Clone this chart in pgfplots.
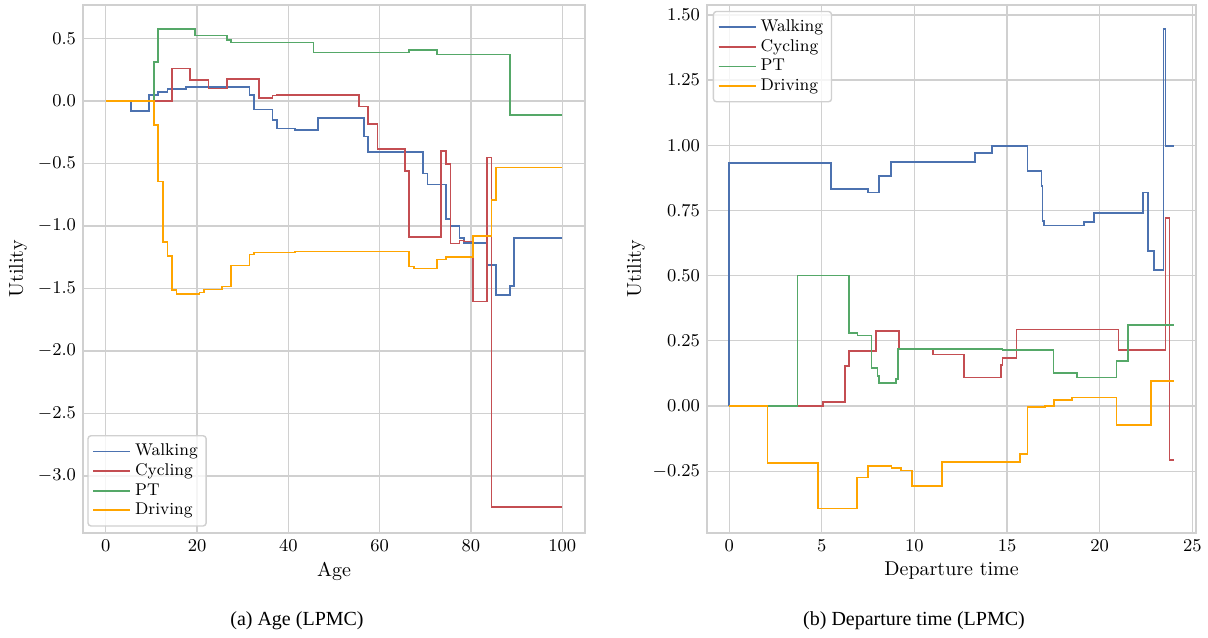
\documentclass[border=0pt]{standalone}
\usepackage{fontspec}
\usepackage{pgfplots}
\pgfplotsset{compat=1.18}
\newfontfamily\capfont{Liberation Serif}
\definecolor{cwalk}{HTML}{4C72B0}
\definecolor{ccyc}{HTML}{C44E52}
\definecolor{cpt}{HTML}{55A868}
\definecolor{cdrive}{HTML}{FFA500}
\definecolor{gridc}{HTML}{D0D0D0}
\pgfplotsset{
  common/.style={
    scale only axis,
    height=264pt,
    axis line style={draw=gridc, line width=0.7pt},
    grid=major,
    major grid style={draw=gridc, line width=0.6pt},
    major tick length=0pt,
    tick label style={font=\fontsize{9}{10}\selectfont},
    label style={font=\fontsize{10}{12}\selectfont},
    every axis plot/.append style={const plot, line width=0.85pt, mark=none},
    legend cell align=left,
    legend image code/.code={\draw[##1] (0pt,0pt) -- (15pt,0pt); \path (0pt,0pt) -- (18.5pt,0pt);},
    legend style={draw=gridc, line width=0.7pt, rounded corners=1.5pt, fill=white, fill opacity=0.8, text opacity=1,
      font=\fontsize{8.5}{10}\selectfont, row sep=-1.6pt, inner sep=2.2pt},
  }
}
\begin{document}
\begin{tikzpicture}
\path[use as bounding box] (0,0) rectangle (604pt,318.5pt);
% ---------- (a) Age ----------
\begin{axis}[common,
  at={(41.5pt,52pt)}, anchor=south west,
  width=251pt,
  xmin=-5, xmax=105, ymin=-3.456, ymax=0.768,
  xtick={0,20,40,60,80,100},
  ytick={-3.0,-2.5,-2.0,-1.5,-1.0,-0.5,0.0,0.5},
  yticklabel style={/pgf/number format/.cd, fixed, fixed zerofill, precision=1},
  xlabel={Age}, ylabel={Utility},
  every axis x label/.style={at={(axis description cs:0.5,-0.072)}, anchor=center},
  every axis y label/.style={at={(axis description cs:-0.1295,0.5)}, anchor=center, rotate=90},
  legend style={at={(0.0086,0.012)}, anchor=south west},
]
\addplot[cwalk] coordinates {
(0,0) (5.5,-0.08) (9.5,0.05) (11.5,0.072) (13.5,0.098) (17.5,0.11) (31.5,0.048) (32.5,-0.067)
(36.5,-0.152) (37.5,-0.219) (41.5,-0.232) (46.5,-0.138) (56.5,-0.285) (57.5,-0.41) (69.5,-0.579)
(70.5,-0.667) (74.5,-0.946) (75.5,-1.0) (77.5,-1.094) (78.5,-1.134) (83.5,-1.31) (85.5,-1.55)
(88.5,-1.48) (89.5,-1.096) (100,-1.096)};
\addlegendentry{Walking}
\addplot[ccyc] coordinates {
(0,0) (14.5,0.26) (18.5,0.17) (22.5,0.10) (26.5,0.176) (33.5,0.026) (36.5,0.043) (37.5,0.05)
(55.5,-0.043) (57.5,-0.184) (59.5,-0.384) (65.5,-0.56) (66.5,-1.09) (73.5,-0.40) (74.5,-0.506)
(75.5,-1.14) (77.5,-1.117) (78.5,-1.125) (80.5,-1.605) (83.5,-0.453) (84.5,-3.25) (100,-3.25)};
\addlegendentry{Cycling}
\addplot[cpt] coordinates {
(0,0) (10.5,0.31) (11.5,0.576) (19.5,0.525) (26.5,0.49) (27.5,0.467) (45.5,0.387) (66.5,0.408)
(72.5,0.371) (88.5,-0.112) (100,-0.112)};
\addlegendentry{PT}
\addplot[cdrive] coordinates {
(0,0) (10.5,-0.19) (11.5,-0.645) (12.5,-1.13) (13.5,-1.24) (14.5,-1.512) (15.5,-1.544) (20.5,-1.533)
(21.5,-1.507) (25.5,-1.485) (27.5,-1.317) (31.5,-1.227) (32.5,-1.213) (41.5,-1.205) (66.5,-1.325)
(67.5,-1.34) (72.5,-1.267) (74.5,-1.25) (80.5,-1.08) (84.5,-0.79) (85.5,-0.533) (100,-0.533)};
\addlegendentry{Driving}
\end{axis}
% ---------- (b) Departure time ----------
\begin{axis}[common,
  at={(353.5pt,52pt)}, anchor=south west,
  width=244.5pt,
  xmin=-1.2, xmax=25.2, ymin=-0.487, ymax=1.538,
  xtick={0,5,10,15,20,25},
  ytick={-0.25,0,0.25,0.5,0.75,1.0,1.25,1.5},
  yticklabel style={/pgf/number format/.cd, fixed, fixed zerofill, precision=2},
  xlabel={Departure time}, ylabel={Utility},
  every axis x label/.style={at={(axis description cs:0.5,-0.072)}, anchor=center},
  every axis y label/.style={at={(axis description cs:-0.145,0.5)}, anchor=center, rotate=90},
  legend style={at={(0.0117,0.989)}, anchor=north west},
]
\addplot[cwalk] coordinates {
(0,0) (0,0.931) (5.5,0.833) (7.5,0.819) (8.1,0.883) (8.75,0.936) (13.25,0.971) (14.2,0.998)
(16.1,0.902) (16.85,0.844) (16.92,0.71) (17.0,0.692) (19.17,0.706) (19.68,0.739) (22.33,0.819)
(22.6,0.595) (22.95,0.522) (23.45,1.447) (23.55,0.998) (24,0.998)};
\addlegendentry{Walking}
\addplot[ccyc] coordinates {
(0,0) (5.08,0.0146) (6.25,0.153) (6.45,0.211) (7.91,0.288) (9.17,0.217) (10.99,0.198) (12.67,0.109)
(14.67,0.156) (14.76,0.184) (15.51,0.294) (21.01,0.214) (23.55,0.722) (23.77,-0.207) (24,-0.207)};
\addlegendentry{Cycling}
\addplot[cpt] coordinates {
(0,0) (3.69,0.50) (6.45,0.281) (6.92,0.27) (7.68,0.145) (8.0,0.116) (8.1,0.089) (9.01,0.104)
(9.12,0.219) (14.76,0.215) (17.51,0.127) (18.77,0.109) (20.9,0.174) (21.51,0.312) (24,0.312)};
\addlegendentry{PT}
\addplot[cdrive] coordinates {
(0,0) (2.07,-0.219) (4.81,-0.393) (6.9,-0.274) (7.51,-0.229) (8.76,-0.239) (9.26,-0.247) (9.86,-0.306)
(11.5,-0.215) (15.68,-0.185) (16.11,-0.003) (17.03,0.001) (17.53,0.023) (18.52,0.033) (20.9,-0.073)
(22.76,0.097) (24,0.097)};
\addlegendentry{Driving}
\end{axis}
\node[font=\capfont\fontsize{10}{12}\selectfont, anchor=center] at (148.5pt,8pt) {(a) Age (LPMC)};
\node[font=\capfont\fontsize{10}{12}\selectfont, anchor=center] at (457pt,8pt) {(b) Departure time (LPMC)};
\end{tikzpicture}
\end{document}
